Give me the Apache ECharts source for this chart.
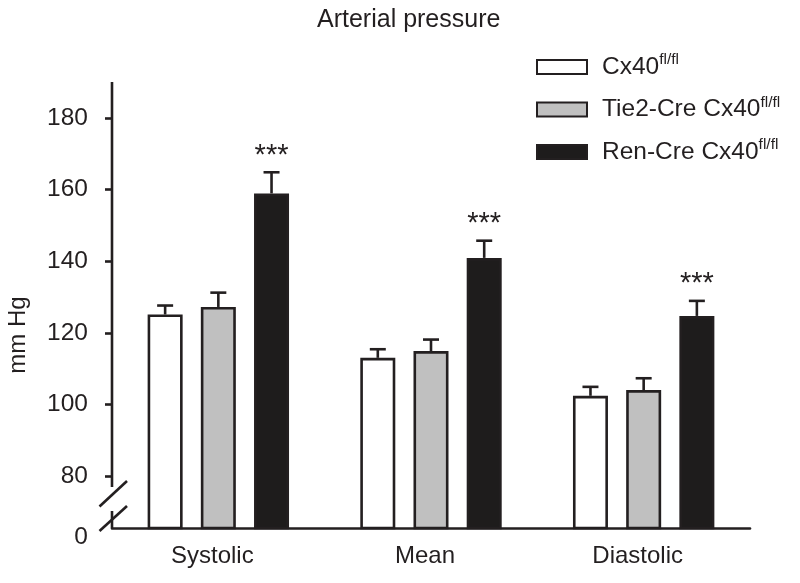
<!DOCTYPE html>
<html><head><meta charset="utf-8">
<script src="https://cdn.jsdelivr.net/npm/echarts@6/dist/echarts.min.js"></script>
<style>html,body{margin:0;padding:0;background:#fff}#c{width:800px;height:583px}</style>
</head><body><div id="c"></div>
<script>
// ---- data ----
const categories = ['Systolic', 'Mean', 'Diastolic'];
const seriesNames = ['Cx40', 'Tie2-Cre Cx40', 'Ren-Cre Cx40'];
const cx40Mean = [125.1, 113.0, 102.4];
const cx40Err  = [2.5, 2.4, 2.5];
const tie2Mean = [127.2, 114.9, 104.0];
const tie2Err  = [4.0, 3.2, 3.3];
const renMean  = [158.9, 140.9, 124.7];
const renErr   = [5.9, 4.8, 4.2];
const renSig   = ['***', '***', '***'];
const yTicks   = [80, 100, 120, 140, 160, 180];
const yBottom  = 65.5;   // broken-axis bottom, labelled "0"
const yMax     = 190;

// ---- style ----
const INK = '#231f20';
const FONT = 'Liberation Sans, Arial, Helvetica, sans-serif';
const fills = ['#ffffff', '#c0c0c0', '#1e1c1c'];
const BAR_W = 35, BAR_GAP = 0.52;
const means = [cx40Mean, tie2Mean, renMean];
const errs = [cx40Err, tie2Err, renErr];

const chart = echarts.init(document.getElementById('c'), null, {renderer: 'canvas'});

function errSeries(idx) {
  return {
    type: 'custom',
    name: seriesNames[idx] + ' err',
    z: 5,
    encode: {x: 0, y: 1},
    data: categories.map((c, i) => [i, means[idx][i], errs[idx][i]]),
    renderItem: function (params, api) {
      const ci = api.value(0), m = api.value(1), e = api.value(2);
      const base = api.coord([ci, m]);
      const top = api.coord([ci, m + e]);
      const step = BAR_W * (1 + BAR_GAP);
      const x = base[0] + (idx - 1) * step;
      const st = {stroke: INK, lineWidth: 2.6};
      const children = [
        {type: 'line', shape: {x1: x, y1: base[1], x2: x, y2: top[1]}, style: st},
        {type: 'line', shape: {x1: x - 8, y1: top[1], x2: x + 8, y2: top[1]}, style: st}
      ];
      if (idx === 2 && renSig[params.dataIndex]) {
        children.push({type: 'text', style: {text: renSig[params.dataIndex], x: x, y: top[1] - 31,
          align: 'center', verticalAlign: 'top', fill: INK, font: '29px ' + FONT}});
      }
      return {type: 'group', children: children};
    }
  };
}

const option = {
  animation: false,
  backgroundColor: '#fff',
  textStyle: {fontFamily: FONT, color: INK},
  title: {
    text: 'Arterial pressure', left: 312, top: 3,
    textStyle: {fontSize: 25, fontWeight: 'normal', color: INK, fontFamily: FONT}
  },
  legend: {
    orient: 'vertical', left: 531, top: 47, itemWidth: 50, itemHeight: 14, itemGap: 15,
    data: seriesNames,
    icon: 'rect',
    formatter: n => '{a|' + n + '}{s|fl/fl}',
    textStyle: {
      color: INK, fontFamily: FONT,
      rich: {
        a: {fontSize: 24.5, lineHeight: 30, color: INK, fontFamily: FONT, padding: [0, 0, 0, 10]},
        s: {fontSize: 15.5, lineHeight: 15, verticalAlign: 'top', color: INK, fontFamily: FONT}
      }
    }
  },
  grid: {left: 112, right: 50, top: 82, bottom: 55, containLabel: false, outerBoundsMode: 'none'},
  xAxis: {
    type: 'category', data: categories,
    axisLine: {show: true, lineStyle: {color: INK, width: 2.6}},
    axisTick: {show: false},
    axisLabel: {fontSize: 24, color: INK, fontFamily: FONT, margin: 16, padding: [0, 12, 0, 0]}
  },
  yAxis: {
    type: 'value', min: yBottom, max: yMax,
    name: 'mm Hg', nameLocation: 'middle', nameGap: 82,
    nameTextStyle: {fontSize: 24, color: INK, fontFamily: FONT, padding: [0, 60, 0, 0]},
    axisLine: {show: false},
    splitLine: {show: false},
    axisTick: {show: true, length: 7, customValues: yTicks, lineStyle: {color: INK, width: 2.6}},
    axisLabel: {
      fontSize: 24.5, color: INK, fontFamily: FONT, margin: 24,
      customValues: [yBottom].concat(yTicks),
      formatter: v => (v < 70 ? '{z|0}' : String(v)),
      rich: {z: {fontSize: 24.5, color: INK, fontFamily: FONT, padding: [18, 0, 0, 0]}}
    }
  },
  series: [0, 1, 2].map(i => ({
    type: 'bar', name: seriesNames[i], data: means[i],
    barWidth: BAR_W, barGap: (BAR_GAP * 100) + '%',
    itemStyle: {color: fills[i], borderColor: INK, borderWidth: 2.6}
  })).concat([0, 1, 2].map(errSeries))
};

chart.setOption(option);

// broken y-axis line drawn from the axis positions
const rect = chart.getModel().getComponent('grid').coordinateSystem.getRect();
const x0 = rect.x;
const yTop = chart.convertToPixel({yAxisIndex: 0}, yMax);
const yb = chart.convertToPixel({yAxisIndex: 0}, yBottom);
const ls = {stroke: INK, lineWidth: 2.6};
chart.setOption({
  graphic: [
    {type: 'line', shape: {x1: x0, y1: yTop, x2: x0, y2: yb - 41}, style: ls, z: 10},
    {type: 'line', shape: {x1: x0, y1: yb - 17, x2: x0, y2: yb}, style: ls, z: 10},
    {type: 'line', shape: {x1: x0 - 12.5, y1: yb - 21.5, x2: x0 + 15, y2: yb - 47}, style: ls, z: 10},
    {type: 'line', shape: {x1: x0 - 12.5, y1: yb + 3, x2: x0 + 15, y2: yb - 22}, style: ls, z: 10}
  ]
});
</script>
</body></html>
